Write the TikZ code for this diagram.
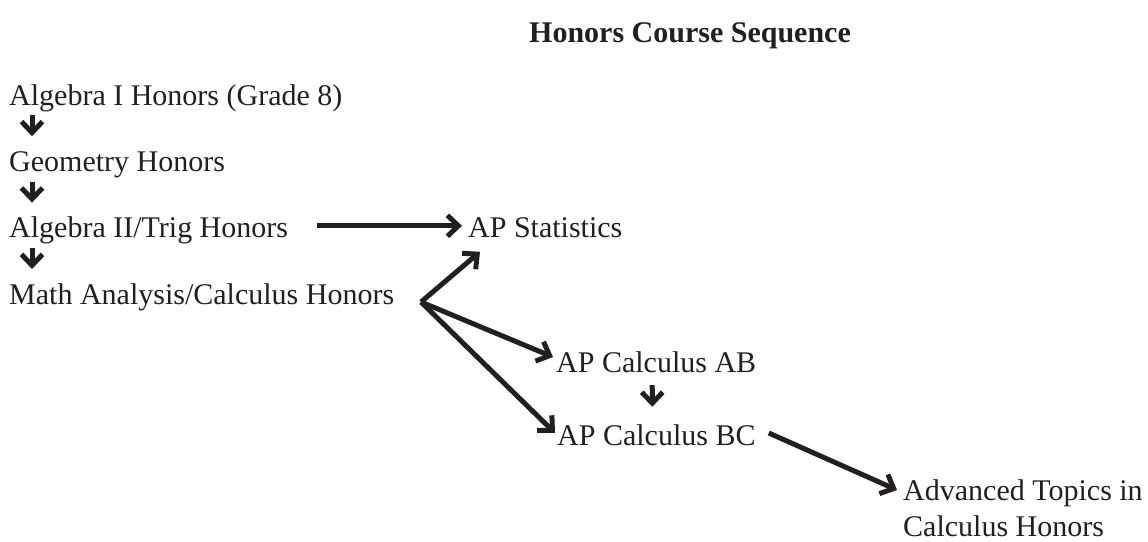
\documentclass[tikz,border=0pt]{standalone}
\usepackage{fontspec}
\setmainfont{Liberation Serif}
\usetikzlibrary{positioning, calc, arrows.meta}
\definecolor{ink}{HTML}{231F20}

\begin{document}
\begin{tikzpicture}[
    x=1pt,
    y=-1pt,
    course/.style={
        inner sep=0pt,
        text height=20pt,
        text depth=7pt,
        font=\fontsize{30}{36}\selectfont,
        text=ink,
    },
    heading/.style={
        course,
        font=\fontsize{30}{36}\selectfont\bfseries,
    },
    arrow/.style={
        -{Straight Barb[length=11pt, width=21pt]},
        line width=5pt,
        draw=ink,
    },
    downarrow/.style={
        arrow,
        shorten <=3pt,
        shorten >=15pt,
    },
    node distance=39pt,
]
    \useasboundingbox (0,0) rectangle (1148,541);

    \node[heading, anchor=base] (title) at (690,42) {Honors Course Sequence};
    \node[course, anchor=base west] (alg1) at (9,105) {Algebra I Honors (Grade 8)};
    \node[course, below=of alg1.south west, anchor=north west] (geo) {Geometry Honors};
    \node[course, below=of geo.south west, anchor=north west] (alg2) {Algebra II/Trig Honors};
    \node[course, below=of alg2.south west, anchor=north west] (math) {Math Analysis/Calculus Honors};
    \node[course, anchor=base west] (apstat) at ($(alg2.base west)+(459,0)$) {AP Statistics};
    \coordinate (fork) at (421,302);
    \node[course, anchor=base west] (calcab) at (556,372) {AP Calculus AB};
    \node[course, anchor=base west] (calcbc) at (557,445) {AP Calculus BC};
    \node[inner sep=0pt, font=\fontsize{30}{36}\selectfont, text=ink, align=left,
        anchor=north west] (adv) at (903,479.5) {Advanced Topics in\\Calculus Honors};

    \draw[downarrow] ([xshift=23pt]alg1.south west) -- ([xshift=23pt]geo.north west);
    \draw[downarrow] ([xshift=23pt]geo.south west) -- ([xshift=23pt]alg2.north west);
    \draw[downarrow] ([xshift=23pt]alg2.south west) -- ([xshift=23pt]math.north west);
    \draw[arrow] ([xshift=29pt, yshift=12pt]alg2.base east) -- ([xshift=-6pt, yshift=12pt]apstat.base west);
    \draw[arrow] (fork) -- ([xshift=12pt, yshift=-14pt]apstat.base west);
    \draw[arrow] (fork) -- ([xshift=-3pt, yshift=15pt]calcab.base west);
    \draw[arrow] (fork) -- ([xshift=-2pt, yshift=12pt]calcbc.base west);
    \draw[arrow, shorten <=6pt, shorten >=18pt] ([xshift=-4pt]calcab.south) -- ([xshift=-4pt]calcbc.north);
    \draw[arrow] ([xshift=13pt, yshift=12pt]calcbc.base east) -- ([xshift=-6pt, yshift=-10.5pt]adv.north west);

\end{tikzpicture}
\end{document}
